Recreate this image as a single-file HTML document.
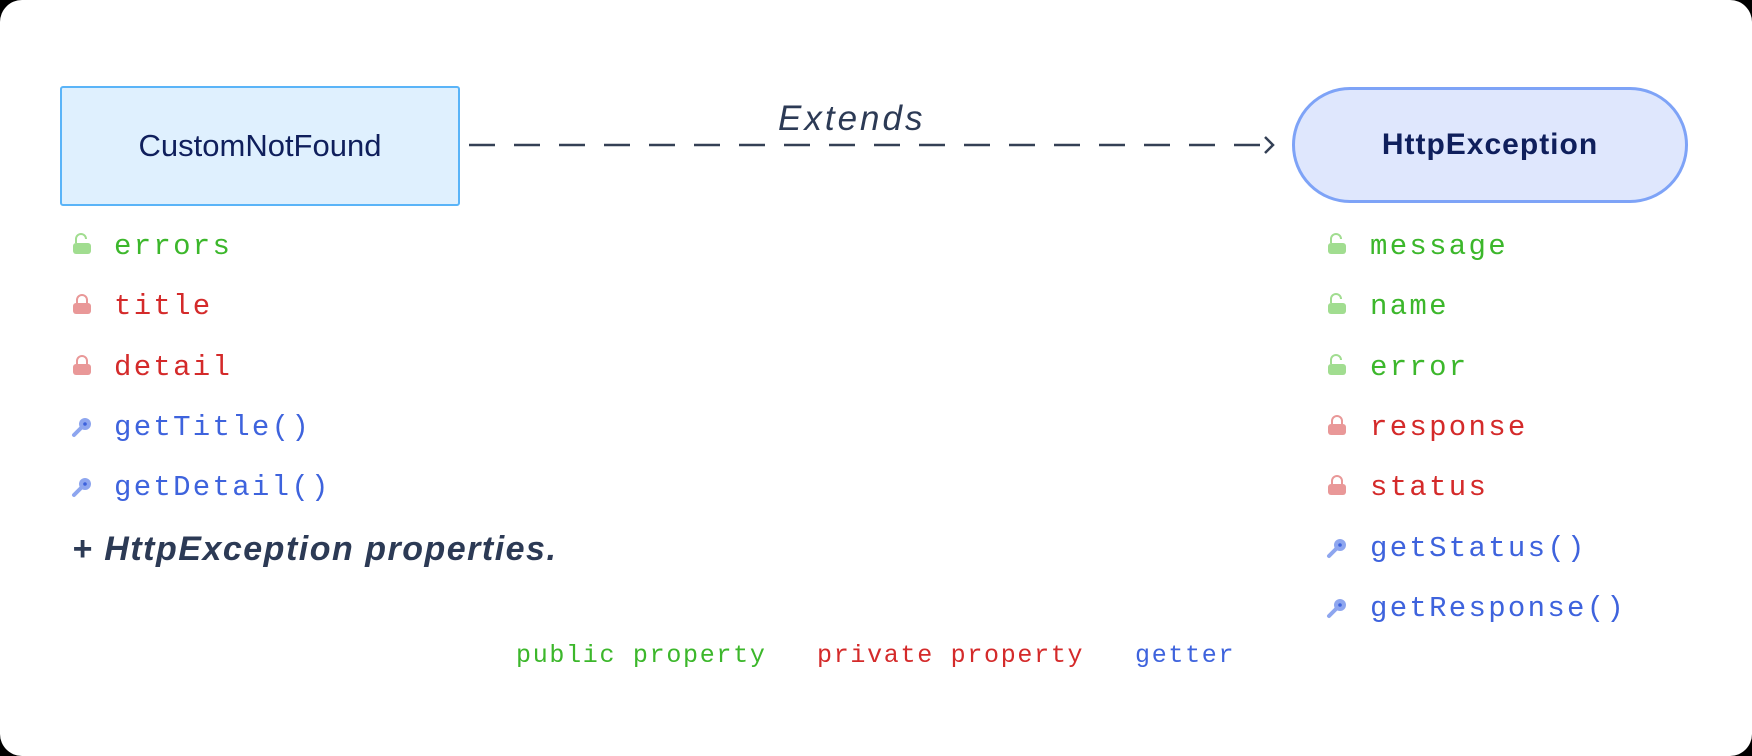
<!DOCTYPE html>
<html><head><meta charset="utf-8"><style>
html,body{margin:0;padding:0;background:#000;}
.card{position:relative;width:1752px;height:756px;background:#fff;border-radius:22px;overflow:hidden;font-family:"Liberation Sans",sans-serif;}
.abs{position:absolute;white-space:nowrap;}
.mono{font-family:"Liberation Mono",monospace;font-size:29px;letter-spacing:2.3px;line-height:34px;}
.g{color:#3cb72b}.r{color:#d42a2a}.b{color:#3e63dd}
.hand{font-family:"Liberation Sans",sans-serif;font-style:italic;color:#2c3a55;}
</style></head><body><div class="card">
<div class="abs" style="left:60px;top:86px;width:396px;height:116px;background:#dff0fe;border:2px solid #5ab4f8;border-radius:3px;display:flex;align-items:center;justify-content:center;font-size:31px;color:#0f1f5c;">CustomNotFound</div>
<div class="abs" style="left:1292px;top:87px;width:390px;height:110px;background:#dfe7fd;border:3px solid #7ea3f7;border-radius:58px;display:flex;align-items:center;justify-content:center;font-size:30px;font-weight:bold;color:#0f1f5c;letter-spacing:1px;">HttpException</div>
<svg class="abs" style="left:0;top:0" width="1752" height="756">
<line x1="469" y1="145" x2="1270" y2="145" stroke="#344055" stroke-width="2.5" stroke-dasharray="26 19"/>
<polyline points="1265,137 1273,145 1265,153" fill="none" stroke="#344055" stroke-width="2.5"/>
</svg>
<div class="abs hand" style="left:778px;top:99px;font-size:35px;letter-spacing:3px;">Extends</div>
<div class="abs hand" style="left:72px;top:530px;font-size:34px;font-weight:bold;letter-spacing:1.5px;">+ HttpException properties.</div>
<svg class="abs" style="left:0;top:0" width="1752" height="756">
<defs>
<g id="ul"><path d="M3 -4 V-8 A5 5 0 0 1 13 -8" fill="none" stroke="#a1dd90" stroke-width="2"/><rect x="0" y="-4" width="18" height="11" rx="3" fill="#a1dd90"/></g>
<g id="lk"><path d="M4 -4 V-7 A5 5 0 0 1 14 -7 V-4" fill="none" stroke="#e99898" stroke-width="2"/><rect x="0" y="-4" width="18" height="11" rx="3" fill="#e99898"/></g>
<g id="ky"><circle cx="12" cy="-4" r="6" fill="#8ea6ef"/><circle cx="12" cy="-4" r="1.8" fill="#3e63dd"/><path d="M8 0 L1 7" stroke="#8ea6ef" stroke-width="4" stroke-linecap="round"/></g>
</defs>
<use href="#ul" x="73" y="247"/><use href="#lk" x="73" y="307"/><use href="#lk" x="73" y="368"/><use href="#ky" x="73" y="428"/><use href="#ky" x="73" y="488"/>
<use href="#ul" x="1328" y="247"/><use href="#ul" x="1328" y="307"/><use href="#ul" x="1328" y="368"/><use href="#lk" x="1328" y="428"/><use href="#lk" x="1328" y="488"/><use href="#ky" x="1328" y="549"/><use href="#ky" x="1328" y="609"/>
</svg>
<div class="abs mono g" style="left:114px;top:230px">errors</div>
<div class="abs mono r" style="left:114px;top:290px">title</div>
<div class="abs mono r" style="left:114px;top:351px">detail</div>
<div class="abs mono b" style="left:114px;top:411px">getTitle()</div>
<div class="abs mono b" style="left:114px;top:471px">getDetail()</div>
<div class="abs mono g" style="left:1370px;top:230px">message</div>
<div class="abs mono g" style="left:1370px;top:290px">name</div>
<div class="abs mono g" style="left:1370px;top:351px">error</div>
<div class="abs mono r" style="left:1370px;top:411px">response</div>
<div class="abs mono r" style="left:1370px;top:471px">status</div>
<div class="abs mono b" style="left:1370px;top:532px">getStatus()</div>
<div class="abs mono b" style="left:1370px;top:592px">getResponse()</div>
<div class="abs g" style="left:516px;top:641px;font-family:'Liberation Mono',monospace;font-size:25px;letter-spacing:1.7px;">public property</div>
<div class="abs r" style="left:817px;top:641px;font-family:'Liberation Mono',monospace;font-size:25px;letter-spacing:1.7px;">private property</div>
<div class="abs b" style="left:1135px;top:641px;font-family:'Liberation Mono',monospace;font-size:25px;letter-spacing:1.7px;">getter</div>
</div></body></html>
